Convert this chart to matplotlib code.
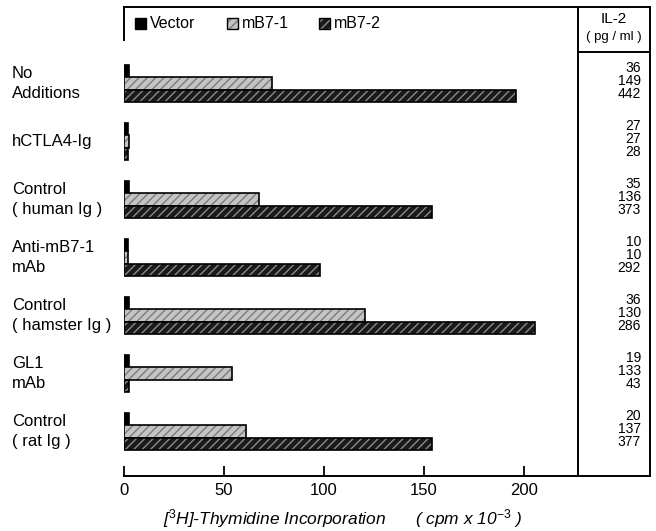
from matplotlib import pyplot as plt
from matplotlib import transforms
from matplotlib.patches import Rectangle
import numpy as np

plt.rcParams['font.family'] = ['Liberation Sans', 'DejaVu Sans']
plt.rcParams['mathtext.fontset'] = 'custom'
plt.rcParams['mathtext.rm'] = 'Liberation Sans'
plt.rcParams['mathtext.it'] = 'Liberation Sans:italic'
plt.rcParams['hatch.linewidth'] = 1.0

groups = ['No\nAdditions', 'hCTLA4-Ig', 'Control\n( human Ig )', 'Anti-mB7-1\nmAb',
          'Control\n( hamster Ig )', 'GL1\nmAb', 'Control\n( rat Ig )']
vector = [2.5, 2, 2.5, 2, 2.5, 2.5, 2.5]
mb7_1 = [74, 2.5, 67.5, 2, 120.5, 54, 61]
mb7_2 = [196, 2, 154, 98, 205.5, 2.5, 154]
il2_vector = [36, 27, 35, 10, 36, 19, 20]
il2_mb7_1 = [149, 27, 136, 10, 130, 133, 137]
il2_mb7_2 = [442, 28, 373, 292, 286, 43, 377]
xticks = [0, 50, 100, 150, 200]

W, H = 656, 531
fig = plt.figure(figsize=(W / 100, H / 100), dpi=100)
# axes spans x pixels 124..650, y pixels 7..476
ax = fig.add_axes([124 / W, 1 - 476 / H, (650 - 124) / W, (476 - 7) / H])

pitch = 58.0
bh = 12.5 / pitch
y = np.arange(len(groups))

styles = [
    ('Vector', vector, 'black', None, None),
    ('mB7-1', mb7_1, '#c4c4c4', '#7a7a7a', '////'),
    ('mB7-2', mb7_2, '#1a1a1a', '#8a8a8a', '////'),
]
for i, (name, vals, fc, hc, hatch) in enumerate(styles):
    pos = y + (i - 1) * bh
    if hatch:
        ax.barh(pos, vals, height=bh, left=0, color=fc, edgecolor=hc, hatch=hatch, linewidth=0)
        ax.barh(pos, vals, height=bh, left=0, fill=False, edgecolor='black', linewidth=1.2)
    else:
        ax.barh(pos, vals, height=bh, left=0, color=fc, edgecolor='black', linewidth=1.2)

ymin = (476 - 83.5) / pitch
ymax = (7 - 83.5) / pitch
ax.set_ylim(ymin, ymax)
ax.set_xlim(0, (650 - 124) / 2)

for s in ['top', 'right', 'bottom']:
    ax.spines[s].set_linewidth(1.4)
ax.spines['left'].set_visible(False)
ax.set_yticks([])
ax.set_xticks(xticks)
ax.tick_params(axis='x', direction='in', length=7, width=1.3, pad=5, labelsize=12)

# left bracket of legend box
ax.plot([0, 0], [ymax, (40 - 83.5) / pitch], color='black', lw=1.4, clip_on=False)

# IL-2 column
col_x = (578 - 124) / 2
ax.axvline(col_x, color='black', lw=1.4)
ax.plot([col_x, 263], [(52 - 83.5) / pitch] * 2, color='black', lw=1.4)
ax.text((614 - 124) / 2, (19 - 83.5) / pitch, 'IL-2', ha='center', va='center', fontsize=11)
ax.text((614 - 124) / 2, (37 - 83.5) / pitch, '( pg / ml )', ha='center', va='center', fontsize=9.5)
for i in range(len(groups)):
    for j, vals in enumerate([il2_vector, il2_mb7_1, il2_mb7_2]):
        ax.text((641 - 124) / 2, i + (j - 1) * bh - 2.5 / pitch, str(vals[i]),
                ha='right', va='center', fontsize=10)

# group labels
tr = transforms.blended_transform_factory(fig.transFigure, ax.transData)
for i, g in enumerate(groups):
    ax.text(12 / W, i, g, transform=tr, ha='left', va='center', fontsize=12, linespacing=1.35)

# legend
def px(x, yy):
    return (x / W, 1 - yy / H)

leg = [(135, 'Vector'), (227, 'mB7-1'), (319, 'mB7-2')]
for (x0, name), (_, _, fc, hc, hatch) in zip(leg, styles):
    if hatch:
        fig.add_artist(Rectangle(px(x0, 29), 11 / W, 11 / H, transform=fig.transFigure,
                                 facecolor=fc, edgecolor=hc, hatch=hatch, linewidth=0))
        fig.add_artist(Rectangle(px(x0, 29), 11 / W, 11 / H, transform=fig.transFigure,
                                 fill=False, edgecolor='black', linewidth=1))
    else:
        fig.add_artist(Rectangle(px(x0, 29), 11 / W, 11 / H, transform=fig.transFigure,
                                 facecolor=fc, edgecolor='black', linewidth=1))
    fig.text(*px(x0 + 15, 23.5), name, ha='left', va='center', fontsize=11.5)

fig.text(163 / W, 1 - 519 / H, r'[$^{3}$H]-Thymidine Incorporation',
         ha='left', va='center', fontsize=12.5, style='italic')
fig.text(415 / W, 1 - 519 / H, r'( cpm x 10$^{-3}$ )',
         ha='left', va='center', fontsize=12.5, style='italic')

fig.savefig('out.png', dpi=100)
